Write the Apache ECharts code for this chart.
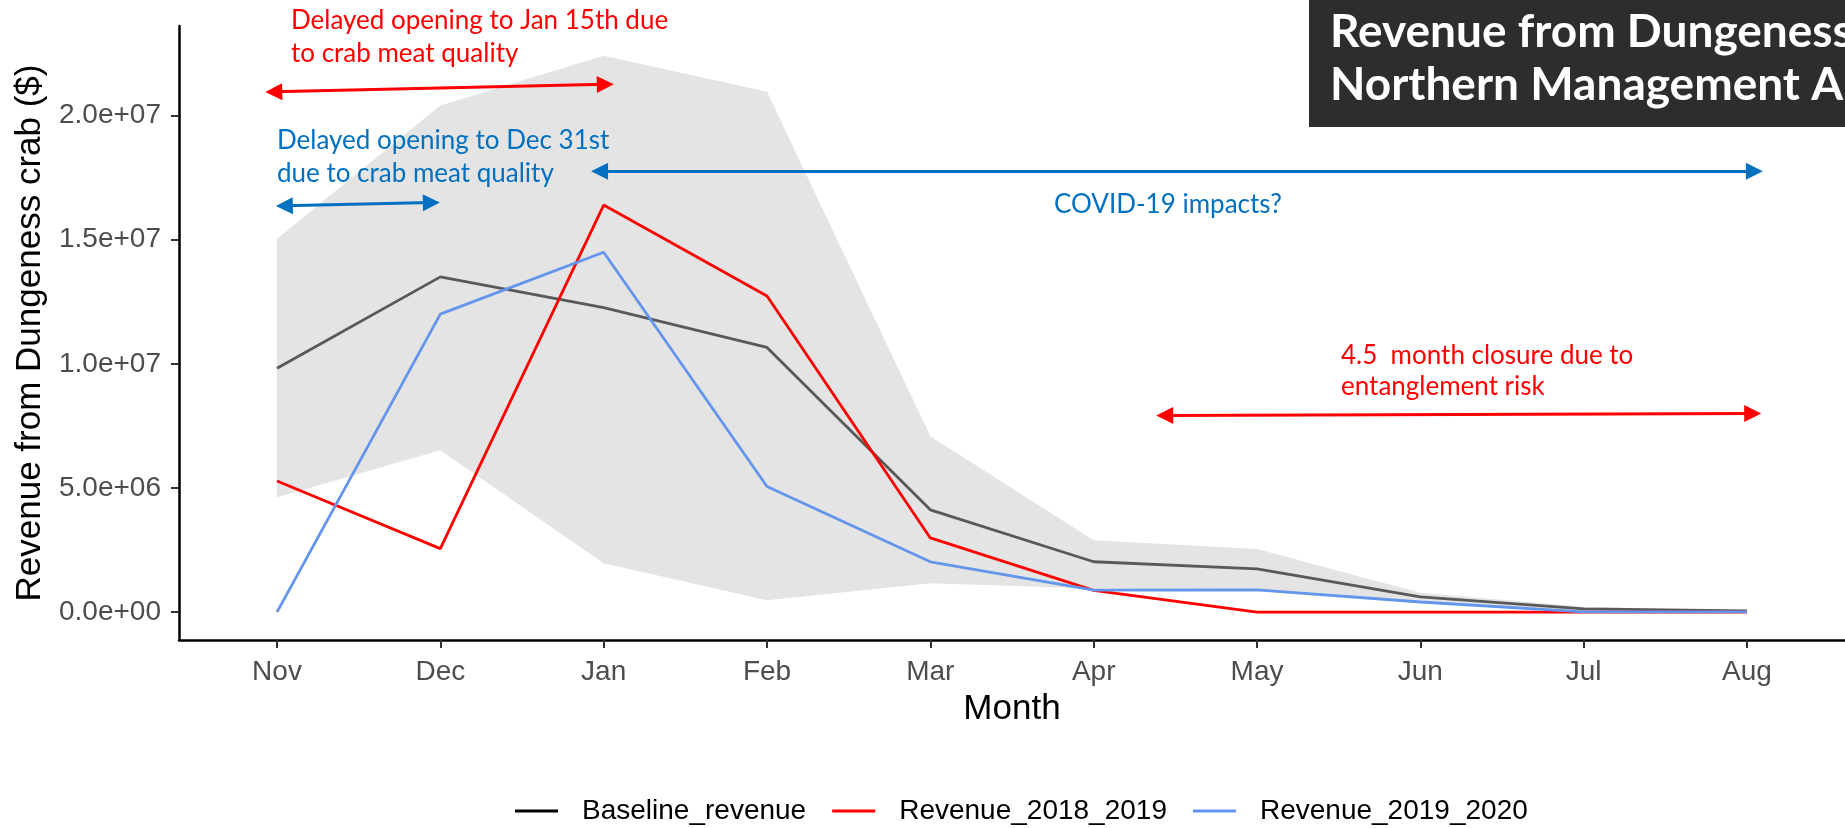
<!DOCTYPE html>
<html>
<head>
<meta charset="utf-8">
<script src="https://cdn.jsdelivr.net/npm/echarts@6/dist/echarts.min.js"></script>
<style>
  html, body { margin: 0; padding: 0; background: #fff; }
  #main { width: 1845px; height: 828px; }
</style>
</head>
<body>
<div id="main"></div>
<script>
var months = ['Nov', 'Dec', 'Jan', 'Feb', 'Mar', 'Apr', 'May', 'Jun', 'Jul', 'Aug'];
var baseline = [9.82e6, 13.5e6, 12.26e6, 10.66e6, 4.12e6, 2.03e6, 1.74e6, 0.62e6, 0.13e6, 0.05e6];
var rev1819 = [5.28e6, 2.56e6, 16.39e6, 12.73e6, 2.99e6, 0.88e6, 0, 0, 0, 0];
var rev1920 = [0, 12.0e6, 14.49e6, 5.06e6, 2.03e6, 0.89e6, 0.9e6, 0.41e6, 0.01e6, 0.01e6];
var bandUpper = [15.03e6, 20.4e6, 22.4e6, 20.95e6, 7.08e6, 2.9e6, 2.54e6, 0.78e6, 0.22e6, 0.06e6];
var bandLower = [4.63e6, 6.52e6, 1.97e6, 0.48e6, 1.16e6, 0.95e6, 0.88e6, 0.38e6, 0.03e6, 0];
var yTicks = [0, 5e6, 1e7, 1.5e7, 2e7];
var legendNames = ['Baseline_revenue', 'Revenue_2018_2019', 'Revenue_2019_2020'];

var chartDom = document.getElementById('main');
var myChart = echarts.init(chartDom);
var option;

function pairs(arr) {
  return arr.map(function (v, i) { return [i, v]; });
}

// 1.5e+07 style labels like R
function sci(v) {
  if (v === 0) return '0.0e+00';
  var e = Math.floor(Math.log10(Math.abs(v)));
  var m = v / Math.pow(10, e);
  return m.toFixed(1) + 'e+' + (e < 10 ? '0' : '') + e;
}

var tickIdx = months.map(function (m, i) { return i; });
var annoFont = '26px Lato';

function arrow(x1, y1, x2, y2, color) {
  return [
    { coord: [x1, y1], lineStyle: { color: color, width: 3, type: 'solid' }, itemStyle: { color: color } },
    { coord: [x2, y2] }
  ];
}

option = {
  animation: false,
  backgroundColor: '#fff',
  grid: { left: 179, right: 0, top: 26, bottom: 188 },
  legend: {
    data: [
      { name: legendNames[0], itemStyle: { color: '#000' } },
      { name: legendNames[1], itemStyle: { color: '#ff0000' } },
      { name: legendNames[2], itemStyle: { color: '#6495ed' } }
    ],
    left: 510,
    top: 792,
    icon: 'rect',
    itemWidth: 43,
    itemHeight: 3,
    itemGap: 26,
    textStyle: { fontFamily: 'Liberation Sans', fontSize: 28, color: '#000', padding: [0, 0, 0, 19] }
  },
  xAxis: {
    type: 'value',
    min: -0.6,
    max: 9.6,
    name: 'Month',
    nameLocation: 'middle',
    nameGap: 52,
    nameTextStyle: { fontFamily: 'Liberation Sans', fontSize: 35, color: '#000' },
    axisLine: { onZero: false, lineStyle: { color: '#000', width: 2.5 } },
    axisTick: { customValues: tickIdx, length: 8, lineStyle: { color: '#333', width: 2 } },
    axisLabel: {
      customValues: tickIdx,
      margin: 18,
      fontFamily: 'Liberation Sans',
      fontSize: 28,
      color: '#4d4d4d',
      formatter: function (v) { return months[Math.round(v)]; }
    },
    splitLine: { show: false }
  },
  yAxis: {
    type: 'value',
    min: -1.12e6,
    max: 23.6e6,
    name: 'Revenue from Dungeness crab ($)',
    nameLocation: 'middle',
    nameGap: 127,
    nameTextStyle: { fontFamily: 'Liberation Sans', fontSize: 35, color: '#000' },
    axisLine: { show: true, onZero: false, lineStyle: { color: '#000', width: 2.5 } },
    axisTick: { show: true, customValues: yTicks, length: 8, lineStyle: { color: '#333', width: 2 } },
    axisLabel: {
      customValues: yTicks,
      margin: 18,
      fontFamily: 'Liberation Sans',
      fontSize: 28,
      color: '#4d4d4d',
      formatter: sci
    },
    splitLine: { show: false }
  },
  series: [
    {
      name: 'band',
      type: 'custom',
      silent: true,
      data: [[0, 0]],
      z: 1,
      renderItem: function (params, api) {
        var pts = [];
        for (var i = 0; i < bandUpper.length; i++) pts.push(api.coord([i, bandUpper[i]]));
        for (var j = bandLower.length - 1; j >= 0; j--) pts.push(api.coord([j, bandLower[j]]));
        return { type: 'polygon', shape: { points: pts }, style: { fill: '#e4e4e4' } };
      }
    },
    {
      name: legendNames[0],
      type: 'line',
      data: pairs(baseline),
      showSymbol: false,
      color: '#595959',
      lineStyle: { color: '#595959', width: 2.8 }
    },
    {
      name: legendNames[1],
      type: 'line',
      data: pairs(rev1819),
      showSymbol: false,
      color: '#ff0000',
      lineStyle: { color: '#ff0000', width: 2.8 }
    },
    {
      name: legendNames[2],
      type: 'line',
      data: pairs(rev1920),
      showSymbol: false,
      color: '#6495ed',
      lineStyle: { color: '#6495ed', width: 2.8 },
      markLine: {
        silent: true,
        symbol: ['triangle', 'triangle'],
        symbolSize: 17,
        label: { show: false },
        data: [
          arrow(-0.02, 20.95e6, 2.01, 21.25e6, '#ff0000'),
          arrow(0.045, 16.36e6, 0.945, 16.49e6, '#0070c0'),
          arrow(1.975, 17.75e6, 9.045, 17.75e6, '#0070c0'),
          arrow(5.435, 7.92e6, 9.035, 8.0e6, '#ff0000')
        ]
      }
    }
  ],
  graphic: [
    { type: 'rect', shape: { x: 1309, y: 0, width: 540, height: 127 }, style: { fill: '#2d2d2d' }, z: 100 },
    { type: 'text', x: 1330, y: 6, z: 101,
      style: { text: 'Revenue from Dungeness crab\nNorthern Management Area', fill: '#fff', font: 'bold 46px Lato', lineHeight: 53, verticalAlign: 'top' } },
    { type: 'text', x: 291, y: 4, z: 50,
      style: { text: 'Delayed opening to Jan 15th due\nto crab meat quality', fill: '#ff0000', font: annoFont, lineHeight: 33, verticalAlign: 'top' } },
    { type: 'text', x: 277, y: 124, z: 50,
      style: { text: 'Delayed opening to Dec 31st\ndue to crab meat quality', fill: '#0070c0', font: annoFont, lineHeight: 33, verticalAlign: 'top' } },
    { type: 'text', x: 1054, y: 188, z: 50,
      style: { text: 'COVID-19 impacts?', fill: '#0070c0', font: annoFont, lineHeight: 33, verticalAlign: 'top' } },
    { type: 'text', x: 1341, y: 340, z: 50,
      style: { text: '4.5  month closure due to\nentanglement risk', fill: '#ff0000', font: annoFont, lineHeight: 31, verticalAlign: 'top' } }
  ]
};

option && myChart.setOption(option);
</script>
</body>
</html>
